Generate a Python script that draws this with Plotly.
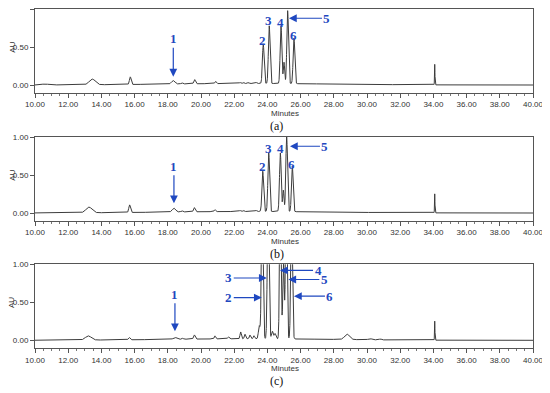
import numpy as np
import plotly.graph_objects as go

# ---------------- data ----------------
# Each chromatogram is described by its peaks: retention time (min), height (AU), width (sigma, min)
a_rt = [10.6, 13.45, 15.74, 18.33, 18.85, 19.62, 20.88, 22.35, 22.55, 22.85, 23.3, 23.75, 24.11, 24.82, 25.0, 25.22, 25.6, 34.08, 23.0]
a_h = [0.012, 0.075, 0.10, 0.045, 0.015, 0.055, 0.03, 0.015, 0.015, 0.012, 0.015, 0.52, 0.76, 0.76, 0.28, 0.96, 0.60, 0.27, 0.02]
a_w = [0.2, 0.18, 0.05, 0.10, 0.05, 0.05, 0.04, 0.04, 0.04, 0.04, 0.05, 0.05, 0.05, 0.05, 0.04, 0.05, 0.05, 0.012, 5.0]

b_rt = [10.5, 13.25, 15.7, 18.37, 18.85, 19.6, 20.84, 22.35, 22.55, 23.3, 23.72, 24.08, 24.78, 24.96, 25.16, 25.5, 34.08, 23.0]
b_h = [0.01, 0.075, 0.10, 0.05, 0.015, 0.055, 0.025, 0.015, 0.015, 0.015, 0.53, 0.77, 0.77, 0.28, 0.99, 0.60, 0.25, 0.02]
b_w = [0.2, 0.18, 0.05, 0.10, 0.05, 0.05, 0.04, 0.04, 0.04, 0.05, 0.05, 0.05, 0.05, 0.04, 0.05, 0.05, 0.012, 5.0]

c_rt = [13.21, 15.68, 18.43, 18.9, 19.6, 20.84, 21.65, 22.39, 22.65, 22.95, 23.19, 23.51, 23.69, 24.05, 24.3, 24.46,
        24.78, 24.97, 25.14, 25.46, 28.8, 30.18, 30.8, 34.08, 23.0]
c_h = [0.055, 0.03, 0.025, 0.012, 0.055, 0.04, 0.025, 0.09, 0.06, 0.05, 0.04, 0.17, 2.0, 2.2, 0.1, 0.07,
       2.2, 1.0, 2.5, 1.8, 0.07, 0.015, 0.012, 0.25, 0.02]
c_w = [0.18, 0.05, 0.10, 0.05, 0.05, 0.04, 0.05, 0.04, 0.04, 0.04, 0.04, 0.05, 0.05, 0.05, 0.05, 0.05,
       0.045, 0.045, 0.045, 0.05, 0.15, 0.1, 0.06, 0.012, 5.0]

x_ticks = [10, 12, 14, 16, 18, 20, 22, 24, 26, 28, 30, 32, 34, 36, 38, 40]
y_ticks = [0.0, 0.5, 1.0]
panel_labels = ["(a)", "(b)", "(c)"]

# peak-number labels (text only) per panel: (label, time, AU)
a_labels = [("2", 23.71, 0.59), ("3", 24.05, 0.846), ("4", 24.78, 0.82), ("6", 25.56, 0.645)]
b_labels = [("2", 23.72, 0.614), ("3", 24.05, 0.855), ("4", 24.78, 0.855), ("6", 25.48, 0.636)]
c_labels = []
# arrow labels: (label, tip time, tip AU, dx px, dy px)
a_arrows = [("1", 18.33, 0.11, 0, -38), ("5", 25.3, 0.878, 38, 0)]
b_arrows = [("1", 18.37, 0.128, 0, -37), ("5", 25.36, 0.878, 35, 0)]
c_arrows = [("1", 18.43, 0.118, 0, -37), ("2", 23.66, 0.562, -33, 0), ("3", 23.96, 0.82, -38, 0),
            ("4", 24.76, 0.92, 38, 0), ("5", 25.26, 0.80, 36, 0), ("6", 25.6, 0.58, 36, 0)]

# ---------------- build figure ----------------
t = np.arange(10.0, 40.0001, 0.004)


def trace_from_peaks(rt, h, w):
    y = np.zeros_like(t)
    for r, hh, ww in zip(rt, h, w):
        y += hh * np.exp(-0.5 * ((t - r) / ww) ** 2)
    return y


OFF = 8  # page body margin
W, H = 550 - OFF, 393 - OFF


def px(x):
    return (x - OFF) / W


def py(y):
    return 1 - (y - OFF) / H


x_dom = [px(35), px(533)]
tops = [9, 137, 264.3]
span = 83.6
blue = "#1f48c0"
fig = go.Figure()

panels = [(a_rt, a_h, a_w, a_labels, a_arrows), (b_rt, b_h, b_w, b_labels, b_arrows), (c_rt, c_h, c_w, c_labels, c_arrows)]
annotations = []
for i, (rt, h, w, labs, arrs) in enumerate(panels):
    n = "" if i == 0 else str(i + 1)
    top = tops[i]
    dom = [py(top + span), py(top)]
    fig.add_trace(go.Scatter(x=t, y=trace_from_peaks(rt, h, w), mode="lines",
                             line=dict(color="#3c3c3c", width=1), xaxis="x" + n, yaxis="y" + n,
                             showlegend=False, hoverinfo="skip"))
    fig.layout["xaxis" + n] = dict(domain=x_dom, range=[10, 40], anchor="y" + n, tickvals=x_ticks,
                                   tickformat=".2f", ticks="outside", ticklen=4, tickwidth=1, tickcolor="#555",
                                   showline=True, linecolor="#555", linewidth=1, mirror=True,
                                   showgrid=False, zeroline=False, automargin=False,
                                   tickfont=dict(family="Arial", size=8, color="#333"),
                                   minor=dict(dtick=0.5, tick0=10, ticks="outside", ticklen=2, tickcolor="#777"))
    fig.layout["yaxis" + n] = dict(domain=dom, range=[-0.1, 1.0], anchor="x" + n, tickvals=y_ticks,
                                   tickformat=".2f", ticks="outside", ticklen=4, tickwidth=1, tickcolor="#555",
                                   showline=True, linecolor="#555", linewidth=1, mirror=True,
                                   showgrid=False, zeroline=False, automargin=False,
                                   tickfont=dict(family="Arial", size=8, color="#333"))
    for (txt, xx, yy) in labs:
        annotations.append(dict(text="<b>" + txt + "</b>", x=xx, y=yy, xref="x" + n, yref="y" + n, showarrow=False,
                                xanchor="center", yanchor="middle",
                                font=dict(family="Liberation Serif", size=13, color=blue)))
    for (txt, xx, yy, dx, dy) in arrs:
        annotations.append(dict(text="<b>" + txt + "</b>", x=xx, y=yy, xref="x" + n, yref="y" + n, showarrow=True,
                                ax=dx, ay=dy, arrowhead=2, arrowsize=1.3, arrowwidth=1.2, arrowcolor=blue,
                                font=dict(family="Liberation Serif", size=13, color=blue)))
    # AU, Minutes, panel label
    annotations.append(dict(text="AU", x=px(11.7), y=py(top + 38), xref="paper", yref="paper",
                            xanchor="center", yanchor="middle",
                            showarrow=False, textangle=-90, font=dict(family="Arial", size=8, color="#333")))
    annotations.append(dict(text="Minutes", x=px(285), y=py(top + 104.5), xref="paper", yref="paper",
                            xanchor="center", yanchor="middle",
                            showarrow=False, font=dict(family="Arial", size=8, color="#333")))
    annotations.append(dict(text=panel_labels[i], x=px(276.7), y=py(top + 117), xref="paper", yref="paper",
                            xanchor="center", yanchor="middle",
                            showarrow=False, font=dict(family="Liberation Serif", size=12, color="#111")))

fig.update_layout(template="none", width=W, height=H, margin=dict(l=0, r=0, t=0, b=0, autoexpand=False),
                  plot_bgcolor="white", paper_bgcolor="white", annotations=annotations)
fig.write_html("out.html")
